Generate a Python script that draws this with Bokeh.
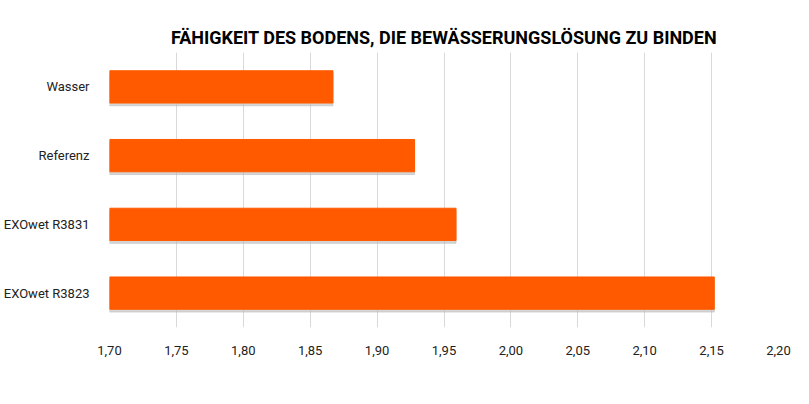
from bokeh.plotting import figure
from bokeh.models import FactorRange, FixedTicker, CustomJSTickFormatter, Label, Range1d
from bokeh.transform import dodge
from bokeh.embed import file_html
from bokeh.resources import INLINE

categories = ["Wasser", "Referenz", "EXOwet R3831", "EXOwet R3823"]
values = [1.867, 1.928, 1.959, 2.152]
ticks = [1.70, 1.75, 1.80, 1.85, 1.90, 1.95, 2.00, 2.05, 2.10, 2.15, 2.20]

FONT = "Roboto"
p = figure(width=793, height=388, output_backend="svg", toolbar_location=None,
           y_range=FactorRange(*categories[::-1], range_padding=0.0),
           x_range=Range1d(1.70, 2.20),
           min_border_left=106, min_border_right=15, min_border_top=52, min_border_bottom=61)
p.title.text = "FÄHIGKEIT DES BODENS, DIE BEWÄSSERUNGSLÖSUNG ZU BINDEN"
p.title.align = "center"
p.title.text_font = FONT
p.title.text_font_size = "18px"
p.title.text_font_style = "bold"
p.title.text_color = "#000000"
p.title.offset = 0

src = dict(cat=categories, val=values)
p.hbar(y=dodge("cat", -0.04, range=p.y_range), right="val", left=1.70, height=0.47,
       source=src, color="#bbbbbb", alpha=0.6)
p.hbar(y="cat", right="val", left=1.70, height=0.47, source=src, color="#FF5A00")

p.xaxis.ticker = FixedTicker(ticks=ticks)
p.xaxis.formatter = CustomJSTickFormatter(code="return tick.toFixed(2).replace('.', ',');")
for ax in (p.xaxis, p.yaxis):
    ax.axis_line_color = None
    ax.major_tick_line_color = None
    ax.minor_tick_line_color = None
    ax.major_label_text_font = FONT
    ax.major_label_text_font_size = "13px"
    ax.major_label_text_color = "#222222"
p.xaxis.major_label_standoff = 12
p.yaxis.major_label_standoff = 14
p.ygrid.grid_line_color = None
p.xgrid.grid_line_color = "#d9d9d9"
p.outline_line_color = None

p.add_layout(Label(x=770, y=-57, x_units="screen", y_units="screen",
                   text="Retentionskoeffizient der Bewässerungslösung",
                   text_align="right", text_font=FONT, text_font_size="12px",
                   text_color="#222222"))

open("out.html", "w").write(file_html(p, INLINE))
